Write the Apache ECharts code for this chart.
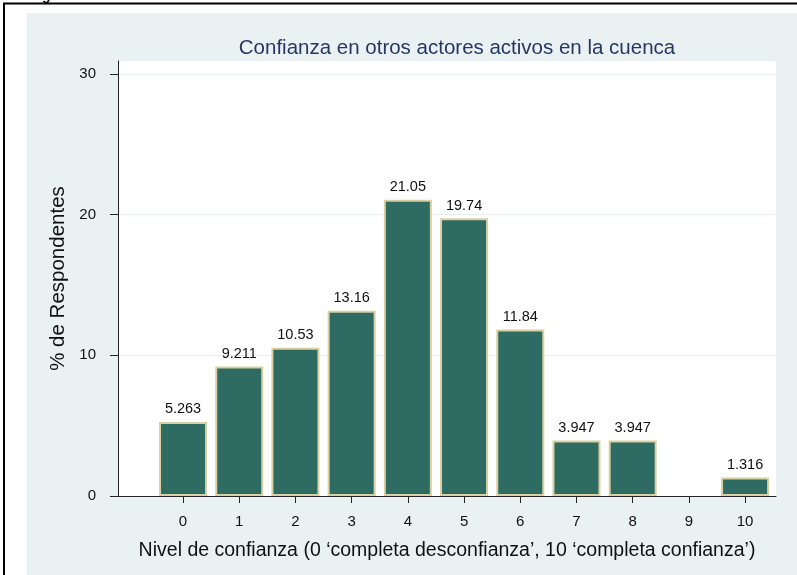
<!DOCTYPE html>
<html lang="es">
<head>
    <meta charset="UTF-8">
    <script src="https://cdn.jsdelivr.net/npm/echarts@6/dist/echarts.min.js"></script>
    <style>
        body { margin: 0; background: #fff; }
        #chart { width: 797px; height: 575px; }
    </style>
    <title>Confianza</title>
</head>
<body>
    <div id="chart"></div>
    <script type="text/javascript">
        // datos
        var niveles = [0, 1, 2, 3, 4, 5, 6, 7, 8, 10];
        var porcentajes = [5.263, 9.211, 10.53, 13.16, 21.05, 19.74, 11.84, 3.947, 3.947, 1.316];
        var xTicks = [0, 1, 2, 3, 4, 5, 6, 7, 8, 9, 10];
        var yTicks = [0, 10, 20, 30];

        var barData = niveles.map(function (n, i) { return [n, porcentajes[i]]; });

        var chart = echarts.init(document.getElementById('chart'));
        var font = 'Liberation Sans, Arial, sans-serif';

        var option = {
            animation: false,
            backgroundColor: '#ffffff',
            textStyle: { fontFamily: font },
            graphic: [
                { type: 'rect', shape: { x: 27, y: 13, width: 770, height: 562 }, style: { fill: '#eaf1f3' }, z: -10 },
                { type: 'line', shape: { x1: 3, y1: 3.5, x2: 797, y2: 3.5 }, style: { stroke: '#000', lineWidth: 2 } },
                { type: 'line', shape: { x1: 4, y1: 3, x2: 4, y2: 575 }, style: { stroke: '#000', lineWidth: 2 } },
                { type: 'text', left: 42, top: -11, style: { text: 'g', font: 'bold 14px ' + font, fill: '#000' } }
            ],
            title: {
                text: 'Confianza en otros actores activos en la cuenca',
                left: 452,
                top: 33,
                textAlign: 'center',
                textStyle: { fontSize: 20.5, fontWeight: 'normal', color: '#263766', fontFamily: font }
            },
            grid: {
                left: 118, top: 61, right: 21, bottom: 79,
                show: true, backgroundColor: '#ffffff', borderWidth: 0
            },
            xAxis: {
                type: 'value',
                min: -1.157,
                max: 10.55,
                name: 'Nivel de confianza (0 \u2018completa desconfianza\u2019, 10 \u2018completa confianza\u2019)',
                nameLocation: 'middle',
                nameGap: 45,
                nameTextStyle: { fontSize: 19.5, color: '#111' },
                axisLine: { onZero: false, lineStyle: { color: '#222', width: 1 } },
                axisTick: { customValues: xTicks, length: 7, lineStyle: { color: '#222' } },
                axisLabel: { customValues: xTicks, fontSize: 15, color: '#111', margin: 18 },
                splitLine: { show: false }
            },
            yAxis: {
                type: 'value',
                min: 0,
                max: 30.92,
                name: '% de Respondentes',
                nameLocation: 'middle',
                nameGap: 45,
                nameTextStyle: { fontSize: 20.5, color: '#111' },
                axisLine: { show: true, onZero: false, lineStyle: { color: '#222', width: 1 } },
                axisTick: { show: true, customValues: yTicks, length: 8, lineStyle: { color: '#222' } },
                axisLabel: { customValues: yTicks, fontSize: 15, color: '#111', margin: 22 },
                splitLine: { show: true, lineStyle: { color: '#e6eff1', width: 1 } }
            },
            series: [{
                type: 'bar',
                data: barData,
                barWidth: 48,
                itemStyle: { color: '#2e6b62', borderColor: '#d8d0a0', borderWidth: 2 },
                label: {
                    show: true,
                    position: 'top',
                    distance: 5,
                    fontSize: 14.5,
                    color: '#111',
                    formatter: function (p) { return String(p.value[1]); }
                }
            }]
        };
        chart.setOption(option);
    </script>
</body>
</html>
